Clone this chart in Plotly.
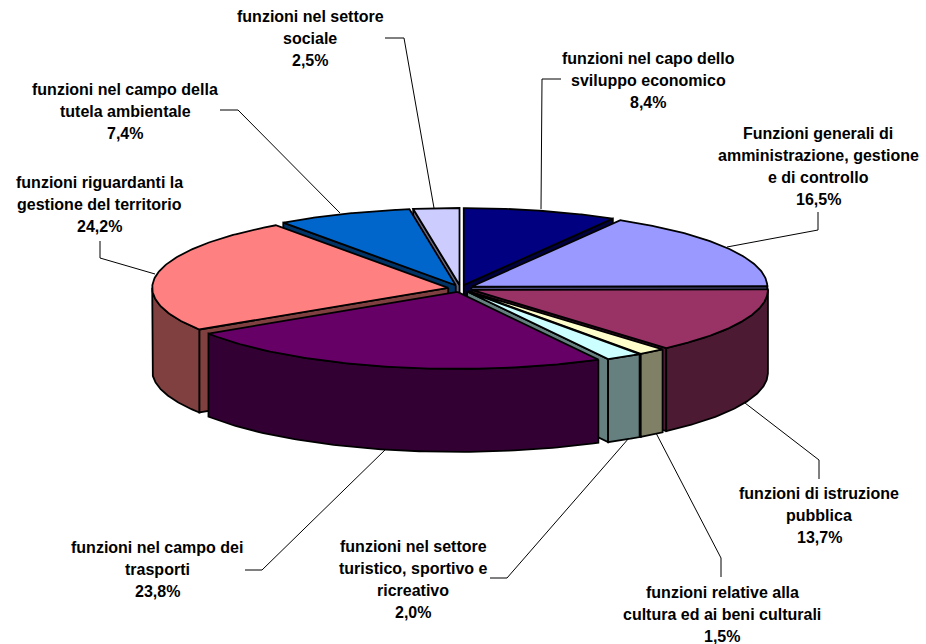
import numpy as np
import plotly.graph_objects as go

# ---- data (clockwise from 12 o'clock) ----
label_lines = [
    ["funzioni nel capo dello", "sviluppo economico"],
    ["Funzioni generali di", "amministrazione, gestione", "e di controllo"],
    ["funzioni di istruzione", "pubblica"],
    ["funzioni relative alla", "cultura ed ai beni culturali"],
    ["funzioni nel settore", "turistico, sportivo e", "ricreativo"],
    ["funzioni nel campo dei", "trasporti"],
    ["funzioni riguardanti la", "gestione del territorio"],
    ["funzioni nel campo della", "tutela ambientale"],
    ["funzioni nel settore", "sociale"],
]
values = [8.4, 16.5, 13.7, 1.5, 2.0, 23.8, 24.2, 7.4, 2.5]

top_colors = ["#000080", "#9999FF", "#993366", "#FFFFCC", "#CCFFFF",
              "#660066", "#FF8080", "#0066CC", "#CCCCFF"]
side_colors = ["#000040", "#4D4D80", "#4D1A33", "#808066", "#668080",
               "#330033", "#804040", "#003366", "#666680"]

# ---- layout of the label text: centre x, first line y ----
label_pos = [(648, 58), (818, 133), (819, 493), (722, 592), (413, 546),
             (157, 547), (99, 182), (125, 89), (310, 16)]
LINE_STEP = 22.2
leaders = [
    [(561, 79), (542, 79), (541, 209)],
    [(818, 212), (818, 230), (727, 247)],
    [(745, 403), (819, 460), (819, 479)],
    [(656, 433), (721, 558), (721, 577)],
    [(629, 438), (507, 578), (490, 578)],
    [(245, 570), (262, 570), (386, 449)],
    [(100, 241), (100, 258), (155, 274)],
    [(220, 110), (238, 110), (340, 213)],
    [(385, 38), (404, 38), (434, 208)],
]

# ---- projection of the exploded 3-D pie ----
CX, CY, RX, RY = 460.5, 288.5, 296, 77
PULL_X, PULL_Y, DEPTH = 12.5, 3.5, 83
EDGE = dict(color="#000000", width=1.8)

vals = np.array(values)
cum = np.concatenate([[0], np.cumsum(vals)]) / vals.sum() * 2 * np.pi
starts, ends = cum[:-1], cum[1:]
mids = (starts + ends) / 2


def rim(ax, ay, a):
    return ax + RX * np.sin(a), ay - RY * np.cos(a)


fig = go.Figure()


def poly(xs, ys, color):
    fig.add_trace(go.Scatter(x=xs, y=ys, mode="lines", fill="toself", fillcolor=color,
                             line=EDGE, hoverinfo="skip", showlegend=False))


order = np.argsort(-np.cos(mids))
for i in order:
    s, e, m = starts[i], ends[i], mids[i]
    ax = CX + PULL_X * np.sin(m)
    ay = CY - PULL_Y * np.cos(m)
    # radial cut faces turned towards the viewer
    for a, visible in ((s, np.sin(s) < 0), (e, np.sin(e) > 0)):
        if visible:
            rx, ry = rim(ax, ay, a)
            poly([ax, rx, rx, ax, ax], [ay, ry, ry + DEPTH, ay + DEPTH, ay], side_colors[i])
    # outer wall
    lo, hi = max(s, np.pi / 2), min(e, 3 * np.pi / 2)
    if hi > lo:
        t = np.linspace(lo, hi, 80)
        wx, wy = rim(ax, ay, t)
        poly(np.r_[wx, wx[::-1], wx[0]], np.r_[wy, wy[::-1] + DEPTH, wy[0]], side_colors[i])
    # top
    t = np.linspace(s, e, 120)
    tx, ty = rim(ax, ay, t)
    poly(np.r_[ax, tx, ax], np.r_[ay, ty, ay], top_colors[i])

# leader lines
for pts in leaders:
    fig.add_trace(go.Scatter(x=[p[0] for p in pts], y=[p[1] for p in pts], mode="lines",
                             line=dict(color="#000000", width=1), hoverinfo="skip",
                             showlegend=False))

# labels, one annotation per line for the wide line spacing
annotations = []
for lines, v, (x, y) in zip(label_lines, values, label_pos):
    all_lines = lines + [f"{v:.1f}%".replace(".", ",")]
    for k, line in enumerate(all_lines):
        annotations.append(dict(x=x, y=y + k * LINE_STEP, text=f"<b>{line}</b>",
                                xref="x", yref="y", showarrow=False,
                                xanchor="center", yanchor="middle",
                                font=dict(family="Liberation Sans", size=16, color="#000000")))

fig.update_layout(
    width=926, height=644, margin=dict(l=0, r=0, t=0, b=0),
    paper_bgcolor="#FFFFFF", plot_bgcolor="#FFFFFF",
    xaxis=dict(range=[0, 926], visible=False, fixedrange=True),
    yaxis=dict(range=[644, 0], visible=False, fixedrange=True),
    annotations=annotations,
)
fig.write_html("out.html", config={"displayModeBar": False},
               post_script="document.body.style.margin='0';document.body.style.overflow='hidden';")
